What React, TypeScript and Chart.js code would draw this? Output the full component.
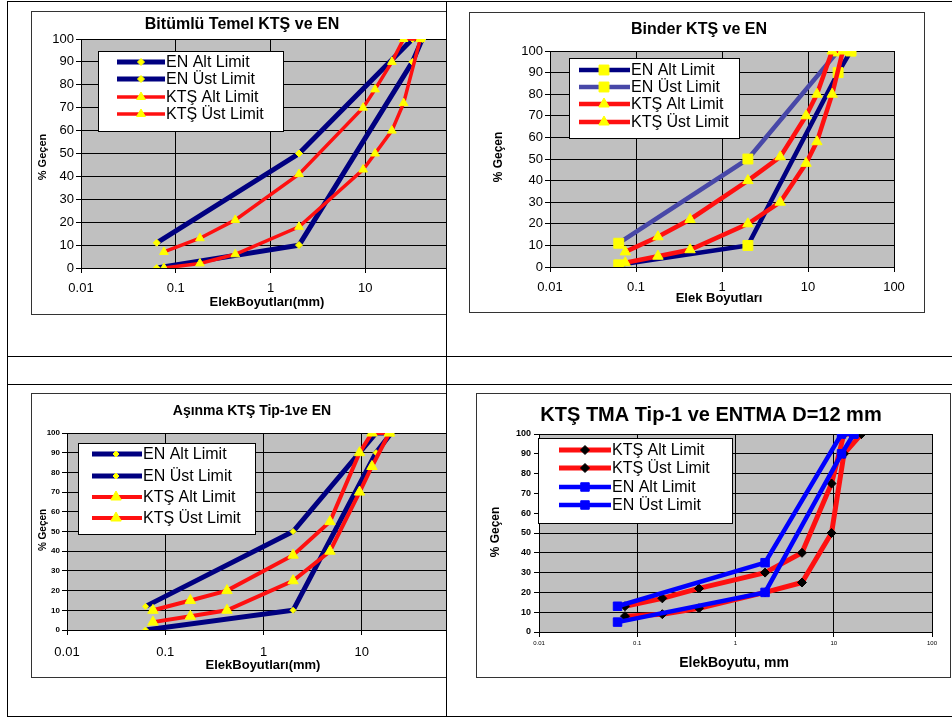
import React, { useEffect, useRef } from "react";
import { Chart, registerables } from "chart.js";
Chart.register(...registerables);

const FONT = "'Liberation Sans', Arial, sans-serif";

// shared axis ticks
const xTickValues = [0.01, 0.1, 1, 10, 100];
const xTickLabels = ["0.01", "0.1", "1", "10", "100"];
const yTickValues = [0, 10, 20, 30, 40, 50, 60, 70, 80, 90, 100];

// Chart 1: Bitümlü Temel
const btEnSieves = [0.063, 2, 31.5, 40];
const btEnAlt = [0, 10, 90, 100];
const btEnUst = [11, 50, 100, 100];
const btKtsSieves = [0.075, 0.18, 0.425, 2, 9.5, 12.7, 19.1, 25.4, 38.1];
const btKtsAlt = [0, 2, 6, 18, 43, 50, 60, 72, 100];
const btKtsUst = [7, 13, 21, 41, 70, 78, 90, 100, 100];

// Chart 2: Binder
const bnEnSieves = [0.063, 2, 22.4, 31.5];
const bnEnAlt = [1, 10, 90, 100];
const bnEnUst = [11, 50, 100, 100];
const bnKtsSieves = [0.075, 0.18, 0.425, 2, 4.75, 9.5, 12.7, 19.1, 25.4];
const bnKtsAlt = [2, 5, 8, 20, 30, 48, 58, 80, 100];
const bnKtsUst = [7, 14, 22, 40, 51, 70, 80, 100, 100];

// Chart 3: Aşınma
const asEnSieves = [0.063, 2, 14, 20];
const asEnAlt = [0, 10, 90, 100];
const asEnUst = [12, 50, 100, 100];
const asKtsSieves = [0.075, 0.18, 0.425, 2, 4.75, 9.5, 12.7, 19.1];
const asKtsAlt = [4, 7, 10, 25, 40, 70, 83, 100];
const asKtsUst = [10, 15, 20, 38, 55, 90, 100, 100];

// Chart 4: TMA
const tmKtsSieves = [0.075, 0.18, 0.425, 2, 4.75, 9.5, 12.7, 19.1];
const tmKtsAlt = [8, 9, 12, 20, 25, 50, 90, 100];
const tmKtsUst = [13, 17, 22, 30, 40, 75, 100, 100];
const tmEnSieves = [0.063, 2, 12, 16];
const tmEnAlt = [5, 20, 90, 100];
const tmEnUst = [13, 35, 100, 100];

type Series = {
  label: string; sieves: number[]; values: number[]; color: string; width: number;
  style: string; radius: number; pointColor: string; order: number;
};

const NAVY = "#000080";
const RED = "#ff1010";
const YEL = "#ffff00";

const specs: any[] = [
  {
    frame: { x: 31, y: 11, w: 450, h: 304 },
    plot: { l: 81, t: 39, r: 460, b: 268 },
    xFont: { size: 13 }, yFont: { size: 13 }, xPad: 8, yPad: 2,
    title: { text: "Bitümlü Temel KTŞ ve EN", x: 242, y: 25, font: "bold 16px" },
    xTitle: { text: "ElekBoyutları(mm)", x: 267, y: 302, font: "bold 13px" },
    yTitle: { text: "% Geçen", x: 43, y: 157, font: "bold 11px" },
    legend: { x: 98, y: 51, w: 185, h: 80, rows: [62, 79, 97, 114], x1: 117, x2: 165, mx: 141, tx: 166, font: "16px" },
    series: [
      { label: "EN Alt Limit", sieves: btEnSieves, values: btEnAlt, color: NAVY, width: 5, style: "rectRot", radius: 3.5, pointColor: YEL, order: 2 },
      { label: "EN Üst Limit", sieves: btEnSieves, values: btEnUst, color: NAVY, width: 5, style: "rectRot", radius: 3.5, pointColor: YEL, order: 2 },
      { label: "KTŞ Alt Limit", sieves: btKtsSieves, values: btKtsAlt, color: RED, width: 3.5, style: "triangle", radius: 5, pointColor: YEL, order: 1 },
      { label: "KTŞ Üst Limit", sieves: btKtsSieves, values: btKtsUst, color: RED, width: 3.5, style: "triangle", radius: 5, pointColor: YEL, order: 1 },
    ] as Series[],
  },
  {
    frame: { x: 469, y: 12, w: 456, h: 301 },
    plot: { l: 550, t: 51, r: 894, b: 267 },
    xFont: { size: 13 }, yFont: { size: 13 }, xPad: 8, yPad: 2,
    title: { text: "Binder KTŞ ve EN", x: 699, y: 30, font: "bold 16px" },
    xTitle: { text: "Elek Boyutları", x: 719, y: 298, font: "bold 13px" },
    yTitle: { text: "% Geçen", x: 499, y: 157, font: "bold 12px" },
    legend: { x: 569, y: 58, w: 170, h: 80, rows: [70, 87, 104, 122], x1: 579, x2: 630, mx: 604, tx: 631, font: "16px" },
    series: [
      { label: "EN Alt Limit", sieves: bnEnSieves, values: bnEnAlt, color: NAVY, width: 4.5, style: "rect", radius: 7, pointColor: YEL, order: 2 },
      { label: "EN Üst Limit", sieves: bnEnSieves, values: bnEnUst, color: "#4848a8", width: 4.5, style: "rect", radius: 7, pointColor: YEL, order: 2 },
      { label: "KTŞ Alt Limit", sieves: bnKtsSieves, values: bnKtsAlt, color: RED, width: 4.5, style: "triangle", radius: 6, pointColor: YEL, order: 1 },
      { label: "KTŞ Üst Limit", sieves: bnKtsSieves, values: bnKtsUst, color: RED, width: 4.5, style: "triangle", radius: 6, pointColor: YEL, order: 1 },
    ] as Series[],
  },
  {
    frame: { x: 31, y: 393, w: 450, h: 285 },
    plot: { l: 67, t: 433, r: 460, b: 630 },
    xFont: { size: 13 }, yFont: { size: 8, weight: "bold" }, xPad: 10, yPad: 2,
    title: { text: "Aşınma KTŞ Tip-1ve EN", x: 252, y: 411, font: "bold 14px" },
    xTitle: { text: "ElekBoyutları(mm)", x: 263, y: 665, font: "bold 13px" },
    yTitle: { text: "% Geçen", x: 43, y: 530, font: "bold 10px" },
    legend: { x: 78, y: 443, w: 177, h: 91, rows: [454, 476, 497, 518], x1: 92, x2: 142, mx: 116, tx: 143, font: "16px" },
    series: [
      { label: "EN Alt Limit", sieves: asEnSieves, values: asEnAlt, color: NAVY, width: 5, style: "rectRot", radius: 3, pointColor: YEL, order: 2 },
      { label: "EN Üst Limit", sieves: asEnSieves, values: asEnUst, color: NAVY, width: 5, style: "rectRot", radius: 3, pointColor: YEL, order: 2 },
      { label: "KTŞ Alt Limit", sieves: asKtsSieves, values: asKtsAlt, color: RED, width: 4, style: "triangle", radius: 6, pointColor: YEL, order: 1 },
      { label: "KTŞ Üst Limit", sieves: asKtsSieves, values: asKtsUst, color: RED, width: 4, style: "triangle", radius: 6, pointColor: YEL, order: 1 },
    ] as Series[],
  },
  {
    frame: { x: 476, y: 393, w: 475, h: 285 },
    plot: { l: 539, t: 434, r: 932, b: 632 },
    xFont: { size: 6 }, yFont: { size: 9, weight: "bold" }, xPad: 3, yPad: 3,
    title: { text: "KTŞ TMA Tip-1 ve ENTMA D=12 mm", x: 711, y: 415, font: "bold 20px" },
    xTitle: { text: "ElekBoyutu, mm", x: 734, y: 663, font: "bold 14px" },
    yTitle: { text: "% Geçen", x: 496, y: 532, font: "bold 12px" },
    legend: { x: 538, y: 438, w: 194, h: 85, rows: [450, 468, 487, 505], x1: 559, x2: 611, mx: 585, tx: 612, font: "16px" },
    series: [
      { label: "KTŞ Alt Limit", sieves: tmKtsSieves, values: tmKtsAlt, color: RED, width: 5, style: "rectRot", radius: 4.5, pointColor: "#000000", order: 2 },
      { label: "KTŞ Üst Limit", sieves: tmKtsSieves, values: tmKtsUst, color: RED, width: 5, style: "rectRot", radius: 4.5, pointColor: "#000000", order: 2 },
      { label: "EN Alt Limit", sieves: tmEnSieves, values: tmEnAlt, color: "#0000ff", width: 4.5, style: "rect", radius: 6, pointColor: "#0000ff", order: 1 },
      { label: "EN Üst Limit", sieves: tmEnSieves, values: tmEnUst, color: "#0000ff", width: 4.5, style: "rect", radius: 6, pointColor: "#0000ff", order: 1 },
    ] as Series[],
  },
];

function drawMarker(ctx: CanvasRenderingContext2D, style: string, x: number, y: number, r: number, color: string) {
  ctx.beginPath();
  if (style === "triangle") {
    for (let i = 0; i < 3; i++) {
      const a = (i * 2 * Math.PI) / 3;
      const px = x + Math.sin(a) * r;
      const py = y - Math.cos(a) * r;
      if (i === 0) ctx.moveTo(px, py); else ctx.lineTo(px, py);
    }
    ctx.closePath();
  } else if (style === "rectRot") {
    ctx.moveTo(x, y - r); ctx.lineTo(x + r, y); ctx.lineTo(x, y + r); ctx.lineTo(x - r, y); ctx.closePath();
  } else {
    const s = r * Math.SQRT1_2;
    ctx.rect(x - s, y - s, 2 * s, 2 * s);
  }
  ctx.fillStyle = color; ctx.fill();
  ctx.strokeStyle = color; ctx.lineWidth = 1; ctx.stroke();
}

function ChartBox({ spec }: { spec: any }) {
  const ref = useRef<HTMLCanvasElement | null>(null);
  useEffect(() => {
    const canvas = ref.current!;
    const f = spec.frame, p = spec.plot;
    const padL = 5;
    const yW = p.l - f.x - padL;
    const xH = 32;
    const padT = p.t - f.y;
    const padR = f.x + f.w - p.r;
    const padB = f.y + f.h - p.b - xH;
    const ox = f.x, oy = f.y;

    const decor = {
      id: "decor",
      beforeDraw(chart: any) {
        const { ctx, chartArea: a } = chart;
        ctx.save();
        ctx.fillStyle = "#c0c0c0";
        ctx.fillRect(a.left, a.top, a.right - a.left, a.bottom - a.top);
        ctx.restore();
      },
      afterDraw(chart: any) {
        const ctx: CanvasRenderingContext2D = chart.ctx;
        ctx.save();
        ctx.fillStyle = "#000";
        ctx.textAlign = "center";
        ctx.textBaseline = "middle";
        ctx.font = `${spec.title.font} ${FONT}`;
        ctx.fillText(spec.title.text, spec.title.x - ox, spec.title.y - oy);
        ctx.font = `${spec.xTitle.font} ${FONT}`;
        ctx.fillText(spec.xTitle.text, spec.xTitle.x - ox, spec.xTitle.y - oy);
        ctx.save();
        ctx.translate(spec.yTitle.x - ox, spec.yTitle.y - oy);
        ctx.rotate(-Math.PI / 2);
        ctx.font = `${spec.yTitle.font} ${FONT}`;
        ctx.fillText(spec.yTitle.text, 0, 0);
        ctx.restore();
        // legend
        const lg = spec.legend;
        ctx.fillStyle = "#fff";
        ctx.fillRect(lg.x - ox, lg.y - oy, lg.w, lg.h);
        ctx.strokeStyle = "#000";
        ctx.lineWidth = 1;
        ctx.strokeRect(lg.x - ox + 0.5, lg.y - oy + 0.5, lg.w, lg.h);
        spec.series.forEach((s: Series, i: number) => {
          const ry = lg.rows[i] - oy;
          ctx.beginPath();
          ctx.strokeStyle = s.color;
          ctx.lineWidth = s.width;
          ctx.moveTo(lg.x1 - ox, ry);
          ctx.lineTo(lg.x2 - ox, ry);
          ctx.stroke();
          drawMarker(ctx, s.style, lg.mx - ox, ry, s.radius, s.pointColor);
          ctx.fillStyle = "#000";
          ctx.textAlign = "left";
          ctx.textBaseline = "middle";
          ctx.font = `${lg.font} ${FONT}`;
          ctx.fillText(s.label, lg.tx - ox, ry + 1);
        });
        ctx.restore();
      },
    };

    const chart = new Chart(canvas, {
      type: "scatter",
      data: {
        datasets: spec.series.map((s: Series) => ({
          label: s.label,
          data: s.sieves.map((x: number, i: number) => ({ x, y: s.values[i] })),
          showLine: true,
          borderColor: s.color,
          backgroundColor: s.color,
          borderWidth: s.width,
          pointStyle: s.style,
          pointRadius: s.radius,
          pointBackgroundColor: s.pointColor,
          pointBorderColor: s.pointColor,
          pointBorderWidth: 1,
          tension: 0,
          order: s.order,
        })),
      },
      options: {
        responsive: false,
        animation: false,
        devicePixelRatio: 1,
        layout: { padding: { left: padL, top: padT, right: padR, bottom: padB } },
        plugins: { legend: { display: false }, tooltip: { enabled: false }, title: { display: false } },
        scales: {
          x: {
            type: "logarithmic",
            min: 0.01,
            max: 100,
            afterBuildTicks: (sc: any) => { sc.ticks = xTickValues.map((v) => ({ value: v })); },
            afterFit: (sc: any) => { sc.height = xH; },
            ticks: {
              autoSkip: false, maxRotation: 0, minRotation: 0,
              callback: (v: any, i: number) => xTickLabels[i],
              font: { family: FONT, ...spec.xFont }, color: "#000", padding: spec.xPad,
            },
            grid: { color: "#000", lineWidth: 1, tickLength: 5, drawTicks: true },
            border: { color: "#000", width: 1 },
          },
          y: {
            type: "linear",
            min: 0,
            max: 100,
            afterBuildTicks: (sc: any) => { sc.ticks = yTickValues.map((v) => ({ value: v })); },
            afterFit: (sc: any) => { sc.width = yW; },
            ticks: { font: { family: FONT, ...spec.yFont }, color: "#000", padding: spec.yPad },
            grid: { color: "#000", lineWidth: 1, tickLength: 5, drawTicks: true },
            border: { color: "#000", width: 1 },
          },
        },
      } as any,
      plugins: [decor as any],
    });
    return () => chart.destroy();
  }, [spec]);
  const f = spec.frame;
  return (
    <>
      <canvas
        ref={ref}
        width={f.w}
        height={f.h}
        style={{ position: "absolute", left: f.x, top: f.y, width: f.w, height: f.h, background: "#fff" }}
      />
      <div
        style={{
          position: "absolute", left: f.x, top: f.y, width: f.w, height: f.h,
          boxSizing: "border-box", border: "1px solid #333", pointerEvents: "none",
        }}
      />
    </>
  );
}

const line = (l: number, t: number, w: number, h: number) => (
  <div style={{ position: "absolute", left: l, top: t, width: w, height: h, background: "#000" }} />
);

export default function App() {
  return (
    <div style={{ position: "absolute", left: 0, top: 0, width: 952, height: 717, background: "#fff", overflow: "hidden" }}>
      <div style={{ position: "absolute", left: 0, top: 0, width: 446, height: 717, overflow: "hidden" }}>
        <ChartBox spec={specs[0]} />
        <ChartBox spec={specs[2]} />
      </div>
      <ChartBox spec={specs[1]} />
      <ChartBox spec={specs[3]} />
      {line(7, 1, 945, 1)}
      {line(7, 1, 1, 716)}
      {line(446, 1, 1, 716)}
      {line(7, 356, 945, 1)}
      {line(7, 384, 945, 1)}
      {line(7, 716, 945, 1)}
    </div>
  );
}
